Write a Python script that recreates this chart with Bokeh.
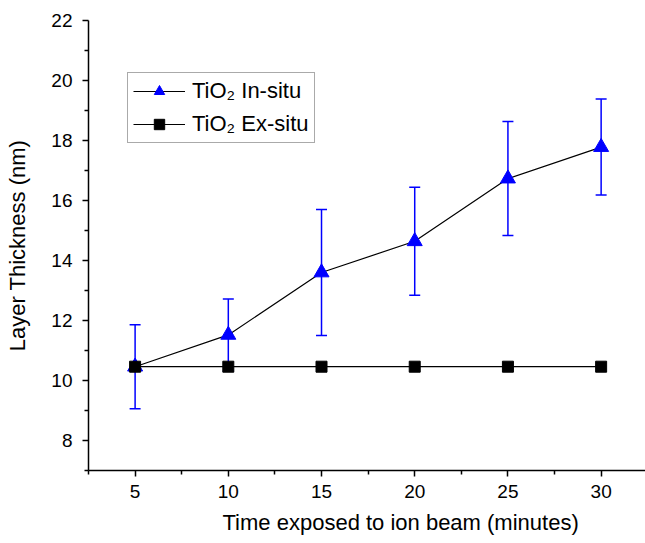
from bokeh.plotting import figure
from bokeh.models import (Range1d, Whisker, ColumnDataSource, Legend, LegendItem,
                          FixedTicker, Title, TeeHead)
from bokeh.embed import file_html
from bokeh.resources import INLINE

# ---- data ----
time_min = [5, 10, 15, 20, 25, 30]
insitu = [10.46, 11.52, 13.60, 14.64, 16.73, 17.78]
insitu_err = [1.40, 1.20, 2.10, 1.80, 1.90, 1.60]
exsitu = [10.46, 10.46, 10.46, 10.46, 10.46, 10.46]
x_ticks = [5, 10, 15, 20, 25, 30]
y_ticks = [8, 10, 12, 14, 16, 18, 20, 22]

FONT = "Liberation Sans"
BLUE = "#0000ff"

p = figure(width=645, height=543, output_backend="svg", toolbar_location=None,
           x_range=Range1d(2.5, 32.38), y_range=Range1d(7, 22),
           min_border_left=88, min_border_right=0, min_border_top=20,
           min_border_bottom=73)
p.outline_line_color = None
p.xgrid.visible = False
p.ygrid.visible = False
p.background_fill_color = "white"
p.border_fill_color = "white"

src = ColumnDataSource(dict(
    x=time_min, y=insitu,
    lo=[v - e for v, e in zip(insitu, insitu_err)],
    hi=[v + e for v, e in zip(insitu, insitu_err)],
    ex=exsitu))

wh = Whisker(source=src, base="x", lower="lo", upper="hi",
             line_color=BLUE, line_width=1.5,
             lower_head=TeeHead(size=11, line_color=BLUE, line_width=1.5),
             upper_head=TeeHead(size=11, line_color=BLUE, line_width=1.5))
p.add_layout(wh)

l1 = p.line("x", "y", source=src, line_color="black", line_width=1.2)
m1 = p.scatter("x", "y", source=src, marker="triangle", size=15,
               fill_color=BLUE, line_color=BLUE)
l2 = p.line("x", "ex", source=src, line_color="black", line_width=1.2)
m2 = p.scatter("x", "ex", source=src, marker="square", size=11,
               fill_color="black", line_color="black")

legend = Legend(items=[LegendItem(label="TiO\u2082 In-situ", renderers=[l1, m1]),
                       LegendItem(label="TiO\u2082 Ex-situ", renderers=[l2, m2])],
                location=(39, 327), border_line_color="#555555", border_line_width=1.2,
                label_text_font=FONT, label_text_font_size="22px",
                label_text_color="black",
                glyph_width=52, glyph_height=26, label_height=26, spacing=7,
                padding=5, margin=0, label_standoff=7,
                background_fill_alpha=1.0)
p.add_layout(legend)

for ax in (p.xaxis[0], p.yaxis[0]):
    ax.axis_line_width = 1.5
    ax.major_tick_line_width = 1.5
    ax.minor_tick_line_width = 1.5
    ax.major_tick_out = 6
    ax.major_tick_in = 0
    ax.minor_tick_out = 4
    ax.minor_tick_in = 0
    ax.major_label_text_font = FONT
    ax.major_label_text_font_size = "19px"
    ax.major_label_text_color = "black"
    ax.axis_label_text_font = FONT
    ax.axis_label_text_font_size = "22px"
    ax.axis_label_text_font_style = "normal"
    ax.axis_label_text_color = "black"

p.xaxis.ticker = FixedTicker(ticks=x_ticks, minor_ticks=[2.5, 7.5, 12.5, 17.5, 22.5, 27.5, 32.5])
p.yaxis.ticker = FixedTicker(ticks=y_ticks, minor_ticks=[7, 9, 11, 13, 15, 17, 19, 21])
p.xaxis.major_label_standoff = 8
p.yaxis.major_label_standoff = 10
p.yaxis.axis_label = "Layer Thickness (nm)"
p.yaxis.axis_label_standoff = 18

xt = Title(text="Time exposed to ion beam (minutes)", align="left", offset=134,
           text_font=FONT, text_font_size="22px", text_font_style="normal",
           text_color="black", standoff=14)
p.add_layout(xt, "below")

open("out.html", "w").write(file_html(p, INLINE))
